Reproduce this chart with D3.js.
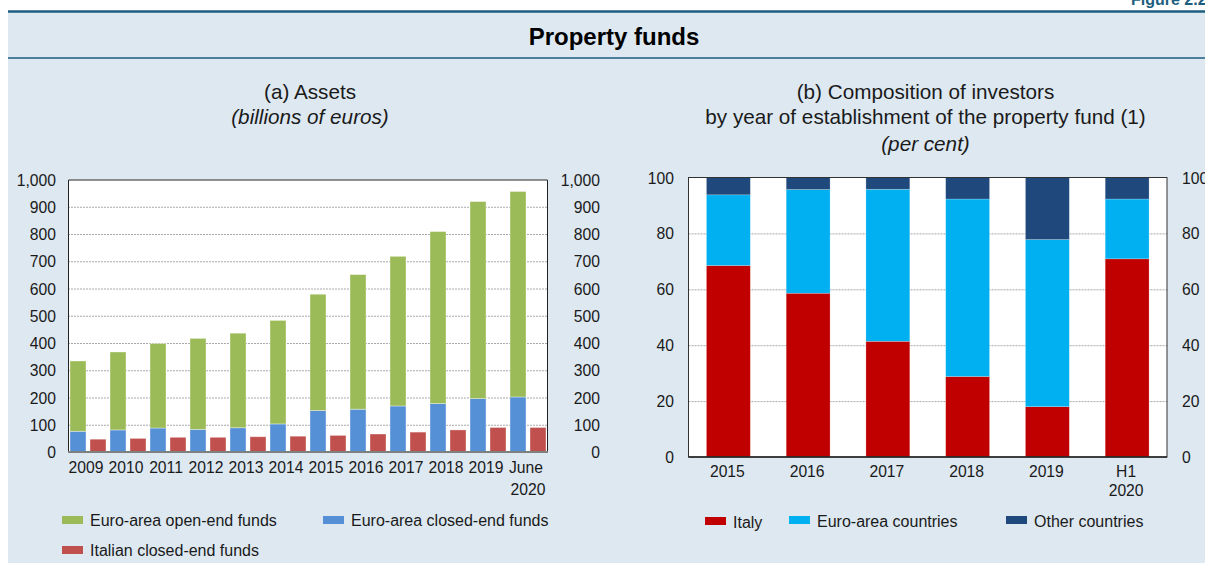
<!DOCTYPE html>
<html>
<head>
<meta charset="utf-8">
<script src="https://cdn.jsdelivr.net/npm/d3@7"></script>
<style>
  html, body { margin: 0; padding: 0; background: #ffffff; }
  svg { display: block; font-family: "Liberation Sans", Arial, Helvetica, sans-serif; }
</style>
</head>
<body>
<svg id="fig" width="1205" height="563"></svg>
<script>
// ---- Panel (a): assets, billions of euros ----
const assetPeriods = ["2009", "2010", "2011", "2012", "2013", "2014", "2015", "2016", "2017", "2018", "2019", "June 2020"];
const euroOpenEnd   = [258, 286, 310, 334, 347, 380, 427, 494, 549, 631, 723, 754];
const euroClosedEnd = [76, 81, 88, 83, 89, 103, 152, 157, 169, 178, 196, 202];
const italianClosedEnd = [47, 50, 54, 54, 56, 58, 61, 66, 73, 81, 90, 90];
const assetTicks = [0, 100, 200, 300, 400, 500, 600, 700, 800, 900, 1000];

// ---- Panel (b): composition of investors, per cent ----
const investorPeriods = ["2015", "2016", "2017", "2018", "2019", "H1 2020"];
const italyShare = [68.5, 58.6, 41.4, 28.8, 18.0, 70.9];
const euroAreaShare = [25.3, 37.1, 54.4, 63.5, 59.8, 21.4];
const otherShare = [6.2, 4.3, 4.2, 7.7, 22.2, 7.7];
const shareTicks = [0, 20, 40, 60, 80, 100];

const COLORS = {
  open: "#9bbb59", closed: "#5590d6", italian: "#c0504d",
  italy: "#c00000", euro: "#00b0f0", other: "#1f497d"
};
const TEXT = "#1a1a1a";
const svg = d3.select("#fig");

// Background band and header rules
svg.append("rect").attr("x", 8).attr("y", 11).attr("width", 1197).attr("height", 552).attr("fill", "#dde8f1");
svg.append("line").attr("x1", 8).attr("x2", 1205).attr("y1", 11.5).attr("y2", 11.5)
  .attr("stroke", "#1d5e80").attr("stroke-width", 2.5);
svg.append("line").attr("x1", 8).attr("x2", 1205).attr("y1", 58).attr("y2", 58)
  .attr("stroke", "#1d5e80").attr("stroke-width", 1.5);
svg.append("text").attr("x", 1131).attr("y", 5).attr("font-size", 16).attr("font-weight", "bold")
  .attr("fill", "#1d5e80").text("Figure 2.2");
svg.append("text").attr("x", 614).attr("y", 36).attr("text-anchor", "middle").attr("dominant-baseline", "central")
  .attr("font-size", 24).attr("font-weight", "bold").attr("fill", "#000").text("Property funds");

function titleLines(cx, lines) {
  lines.forEach(l => {
    svg.append("text").attr("x", cx).attr("y", l.y).attr("text-anchor", "middle")
      .attr("dominant-baseline", "central").attr("font-size", 20.7).attr("fill", TEXT)
      .attr("font-style", l.italic ? "italic" : "normal").text(l.text);
  });
}

function gridLines(g, x0, x1, y, ticks) {
  g.selectAll("line.grid").data(ticks.slice(1, -1)).join("line").attr("class", "grid")
    .attr("x1", x0).attr("x2", x1).attr("y1", d => y(d) + 0.5).attr("y2", d => y(d) + 0.5)
    .attr("stroke", "#a9a9a9").attr("stroke-width", 1).attr("stroke-dasharray", "2,1");
}

// ================= Panel (a) =================
{
  const L = 68, R = 548, T = 179.5, B = 452;
  titleLines(310, [{ text: "(a) Assets", y: 91 }, { text: "(billions of euros)", y: 116, italic: true }]);

  const plot = svg.append("g");
  plot.append("rect").attr("x", L).attr("y", T).attr("width", R - L).attr("height", B - T).attr("fill", "#fff");

  const x = d3.scaleBand().domain(assetPeriods).range([L, R]).paddingInner(0.1).paddingOuter(0.05);
  const xs = d3.scaleBand().domain(["stack", "italian"]).range([0, x.bandwidth()]).paddingInner(0.2);
  const y = d3.scaleLinear().domain([0, 1000]).range([B, T]);

  gridLines(plot, L, R, y, assetTicks);

  const rows = assetPeriods.map((p, i) => ({ period: p, closed: euroClosedEnd[i], open: euroOpenEnd[i], italian: italianClosedEnd[i] }));
  const stacked = d3.stack().keys(["closed", "open"])(rows);
  plot.selectAll("g.layer").data(stacked).join("g").attr("class", "layer")
    .attr("fill", d => COLORS[d.key])
    .selectAll("rect").data(d => d).join("rect")
    .attr("x", d => x(d.data.period) + xs("stack"))
    .attr("width", xs.bandwidth())
    .attr("y", d => y(d[1]))
    .attr("height", d => y(d[0]) - y(d[1]))
    .attr("stroke", "rgba(255,255,255,0.45)").attr("stroke-width", 0.8);
  plot.selectAll("rect.ita").data(rows).join("rect").attr("class", "ita")
    .attr("x", d => x(d.period) + xs("italian"))
    .attr("width", xs.bandwidth())
    .attr("y", d => y(d.italian))
    .attr("height", d => B - y(d.italian))
    .attr("fill", COLORS.italian)
    .attr("stroke", "rgba(255,255,255,0.45)").attr("stroke-width", 0.8);

  // frame
  plot.append("path").attr("d", `M${L + 0.5},${B}V${T + 0.5}H${R - 0.5}V${B}`)
    .attr("fill", "none").attr("stroke", "#222").attr("stroke-width", 1);
  plot.append("line").attr("x1", L).attr("x2", R).attr("y1", B).attr("y2", B)
    .attr("stroke", "#7f7f7f").attr("stroke-width", 2);

  // value axes on both sides
  const fmt = d3.format(",");
  const yl = d3.axisLeft(y).tickValues(assetTicks).tickFormat(fmt).tickSize(0).tickPadding(0);
  const yr = d3.axisRight(y).tickValues(assetTicks).tickFormat(fmt).tickSize(0).tickPadding(0);
  const gl = svg.append("g").attr("transform", `translate(56,0)`).call(yl);
  const gr = svg.append("g").attr("transform", `translate(600,0)`).call(yr);
  gr.selectAll("text").attr("text-anchor", "end");
  [gl, gr].forEach(g => {
    g.select(".domain").remove();
    g.selectAll("text").attr("font-size", 15.7).attr("fill", TEXT).attr("font-family", null).attr("dy", "0.35em");
  });

  // category axis
  const gx = svg.append("g").attr("transform", `translate(0,${B})`)
    .call(d3.axisBottom(x).tickSize(0).tickPadding(0).tickFormat(""));
  gx.select(".domain").remove();
  gx.selectAll(".tick").each(function (d) {
    const parts = d.split(" ");
    const t = d3.select(this).append("text").attr("fill", TEXT).attr("font-size", 15.7).attr("text-anchor", "middle");
    parts.forEach((p, k) => t.append("tspan").attr("x", k === 0 ? -2 : 0).attr("y", 16 + k * 22).attr("dy", "0.35em").text(p));
  });

  // legend
  const legA = [
    { label: "Euro-area open-end funds", color: COLORS.open, x: 62, y: 520 },
    { label: "Euro-area closed-end funds", color: COLORS.closed, x: 323, y: 520 },
    { label: "Italian closed-end funds", color: COLORS.italian, x: 62, y: 550 }
  ];
  const la = svg.append("g").selectAll("g").data(legA).join("g")
    .attr("transform", d => `translate(${d.x},${d.y})`);
  la.append("rect").attr("x", 0).attr("y", -4).attr("width", 21).attr("height", 8).attr("fill", d => d.color);
  la.append("text").attr("x", 28).attr("y", 0).attr("dy", "0.35em").attr("font-size", 16).attr("fill", TEXT).text(d => d.label);
}

// ================= Panel (b) =================
{
  const L = 688.5, R = 1167, T = 177.5, B = 457;
  titleLines(925.5, [
    { text: "(b) Composition of investors", y: 91 },
    { text: "by year of establishment of the property fund (1)", y: 116 },
    { text: "(per cent)", y: 143, italic: true }
  ]);

  const plot = svg.append("g");
  plot.append("rect").attr("x", L).attr("y", T).attr("width", R - L).attr("height", B - T).attr("fill", "#fff");

  const x = d3.scaleBand().domain(investorPeriods).range([L, R]).paddingInner(0.45).paddingOuter(0.225);
  const y = d3.scaleLinear().domain([0, 100]).range([B, T]);
  gridLines(plot, L, R, y, shareTicks);

  const rows = investorPeriods.map((p, i) => ({ period: p, italy: italyShare[i], euro: euroAreaShare[i], other: otherShare[i] }));
  const stacked = d3.stack().keys(["italy", "euro", "other"])(rows);
  plot.selectAll("g.layer").data(stacked).join("g").attr("class", "layer")
    .attr("fill", d => COLORS[d.key])
    .selectAll("rect").data(d => d).join("rect")
    .attr("x", d => x(d.data.period))
    .attr("width", x.bandwidth())
    .attr("y", d => y(d[1]))
    .attr("height", d => y(d[0]) - y(d[1]))
    .attr("stroke", "rgba(255,255,255,0.35)").attr("stroke-width", 0.6);

  plot.append("rect").attr("x", L).attr("y", T).attr("width", R - L).attr("height", B - T)
    .attr("fill", "none").attr("stroke", "#333").attr("stroke-width", 1);
  plot.append("line").attr("x1", L).attr("x2", R).attr("y1", B).attr("y2", B)
    .attr("stroke", "#222").attr("stroke-width", 1.5);

  const yl = d3.axisLeft(y).tickValues(shareTicks).tickSize(0).tickPadding(0);
  const yr = d3.axisRight(y).tickValues(shareTicks).tickSize(0).tickPadding(0);
  const gl = svg.append("g").attr("transform", `translate(674,0)`).call(yl);
  const gr = svg.append("g").attr("transform", `translate(1182,0)`).call(yr);
  [gl, gr].forEach(g => {
    g.select(".domain").remove();
    g.selectAll("text").attr("font-size", 15.7).attr("fill", TEXT).attr("font-family", null).attr("dy", "0.35em");
  });

  const gx = svg.append("g").attr("transform", `translate(0,${B})`)
    .call(d3.axisBottom(x).tickSize(0).tickPadding(0).tickFormat(""));
  gx.select(".domain").remove();
  gx.selectAll(".tick").each(function (d) {
    const parts = d.split(" ");
    const t = d3.select(this).append("text").attr("fill", TEXT).attr("font-size", 15.7).attr("text-anchor", "middle");
    parts.forEach((p, k) => t.append("tspan").attr("x", -1).attr("y", 15 + k * 19).attr("dy", "0.35em").text(p));
  });

  const legB = [
    { label: "Italy", color: COLORS.italy, x: 705, y: 521 },
    { label: "Euro-area countries", color: COLORS.euro, x: 789, y: 520 },
    { label: "Other countries", color: COLORS.other, x: 1006, y: 520 }
  ];
  const lb = svg.append("g").selectAll("g").data(legB).join("g")
    .attr("transform", d => `translate(${d.x},${d.y})`);
  lb.append("rect").attr("x", 0).attr("y", -4).attr("width", 21).attr("height", 8).attr("fill", d => d.color);
  lb.append("text").attr("x", 28).attr("y", 1).attr("dy", "0.35em").attr("font-size", 16).attr("fill", TEXT).text(d => d.label);
}
</script>
</body>
</html>
